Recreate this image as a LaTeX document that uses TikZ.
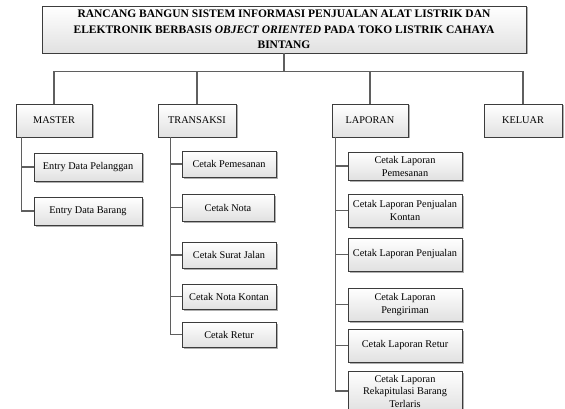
\documentclass[tikz,border=0pt]{standalone}
\usepackage{fontspec}
\setmainfont{Liberation Serif}
\usepackage{xcolor}
\usepackage{tikz}
\usetikzlibrary{shadows,positioning,calc}
\definecolor{boxline}{RGB}{60, 60, 60}
\definecolor{linkline}{RGB}{95, 95, 95}
\definecolor{boxshade}{RGB}{225, 225, 225}
\definecolor{shadowgray}{RGB}{175, 175, 175}

\tikzset{
    menubox/.style={draw=boxline, line width=0.9pt, top color=white, bottom color=boxshade,
        inner sep=0pt, align=center,
        drop shadow={shadow xshift=1.5pt, shadow yshift=-1.5pt, fill=shadowgray, opacity=1}},
    link/.style={draw=linkline, line width=1.2pt}
}

\begin{document}
\begin{tikzpicture}[x=1pt, y=-1pt, every node/.style={font=\fontsize{10.3}{13}\selectfont}]
    \useasboundingbox (0,0) rectangle (565,409);

    % Judul sistem
    \node[menubox, minimum width=484pt, minimum height=47pt, font=\fontsize{11.5}{15.5}\selectfont\bfseries] (judul) at (284,29.5)
        {RANCANG BANGUN SISTEM INFORMASI PENJUALAN ALAT LISTRIK DAN\\
         ELEKTRONIK BERBASIS \textit{OBJECT ORIENTED} PADA TOKO LISTRIK CAHAYA\\
         BINTANG};

    % Menu utama
    \node[menubox, minimum width=76pt, minimum height=33pt] (master) at (54,120.5) {MASTER};
    \node[menubox, minimum width=78pt, minimum height=33pt] (transaksi) at (197,120.5) {TRANSAKSI};
    \node[menubox, minimum width=76pt, minimum height=33pt] (laporan) at (370,120.5) {LAPORAN};
    \node[menubox, minimum width=78pt, minimum height=33pt] (keluar) at (523,120.5) {KELUAR};

    \draw[link] (judul.south) -- ++(0,18) -| (master.north);
    \draw[link] (judul.south) -- ++(0,18) -| (transaksi.north);
    \draw[link] (judul.south) -- ++(0,18) -| (laporan.north);
    \draw[link] (judul.south) -- ++(0,18) -| (keluar.north);

    % Submenu master
    \node[menubox, minimum width=108pt, minimum height=28pt] (pelanggan) at (88,167) {Entry Data Pelanggan};
    \node[menubox, minimum width=108pt, minimum height=28pt] (barang) at (88,211) {Entry Data Barang};

    \draw[link] ([xshift=6pt]master.south west) |- (pelanggan.west);
    \draw[link] ([xshift=6pt]master.south west) |- (barang.west);

    % Submenu transaksi
    \node[menubox, minimum width=94pt, minimum height=26pt] (pemesanan) at (229,164) {Cetak Pemesanan};
    \node[menubox, minimum width=92pt, minimum height=27pt] (nota) at (228,207.5) {Cetak Nota};
    \node[menubox, minimum width=94pt, minimum height=26pt] (suratjalan) at (229,255) {Cetak Surat Jalan};
    \node[menubox, minimum width=94pt, minimum height=25pt] (notakontan) at (229,296.5) {Cetak Nota Kontan};
    \node[menubox, minimum width=94pt, minimum height=25pt] (retur) at (229,334.5) {Cetak Retur};

    \foreach \sub in {pemesanan,nota,suratjalan,notakontan,retur}
        \draw[link] ([xshift=13pt]transaksi.south west) |- (\sub.west);

    % Submenu laporan
    \node[menubox, minimum width=114pt, minimum height=28pt] (lappesan) at (405,166) {Cetak Laporan\\Pemesanan};
    \node[menubox, minimum width=114pt, minimum height=33pt] (lapkontan) at (405,210.5) {Cetak Laporan Penjualan\\Kontan};
    \node[menubox, minimum width=114pt, minimum height=33pt] (lapjual) at (405,254.5) {Cetak Laporan Penjualan};
    \node[menubox, minimum width=114pt, minimum height=33pt] (lapkirim) at (405,304.5) {Cetak Laporan\\Pengiriman};
    \node[menubox, minimum width=114pt, minimum height=33pt] (lapretur) at (405,345.5) {Cetak Laporan Retur};
    \node[menubox, minimum width=114pt, minimum height=40pt, font=\fontsize{10.3}{12.5}\selectfont] (laprekap) at (405,391) {Cetak Laporan\\Rekapitulasi Barang\\Terlaris};

    \foreach \sub in {lappesan,lapkontan,lapjual,lapkirim,lapretur,laprekap}
        \draw[link] ([xshift=4pt]laporan.south west) |- (\sub.west);
\end{tikzpicture}
\end{document}
